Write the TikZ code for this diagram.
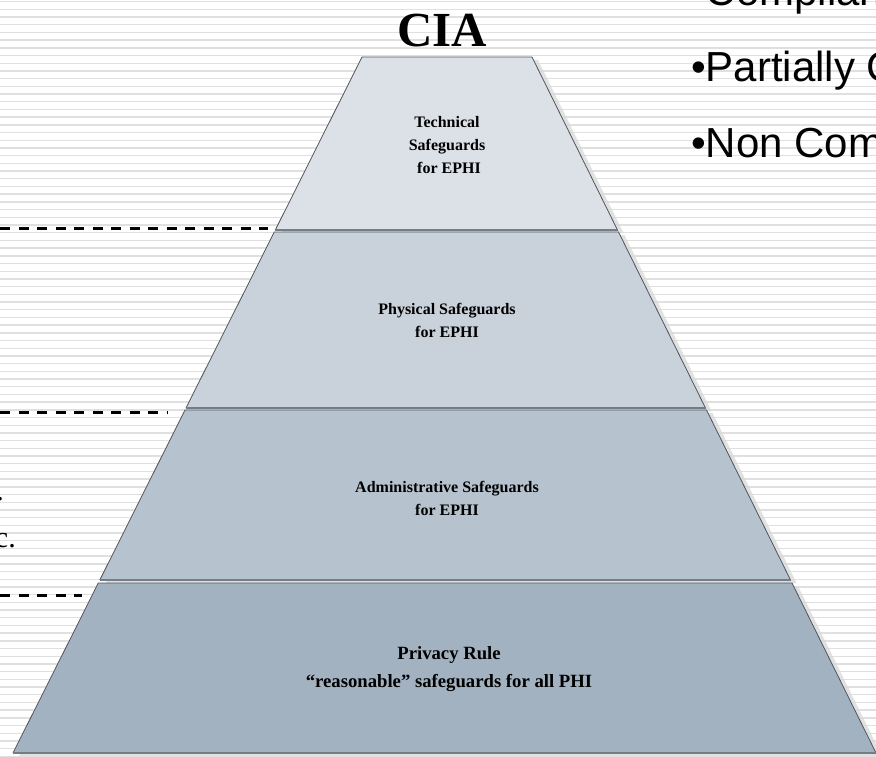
\documentclass[tikz,border=0pt]{standalone}
\usepackage{fontspec}
\setmainfont{Liberation Serif}
\newfontfamily\listfont{Liberation Sans}
\definecolor{stripegray}{HTML}{E0E0E0}
\definecolor{tierA}{HTML}{DCE1E8}
\definecolor{tierB}{HTML}{C9D1DA}
\definecolor{tierC}{HTML}{B6C2CE}
\definecolor{tierD}{HTML}{A3B2C1}
\definecolor{edgedark}{HTML}{50555C}
\definecolor{edgebase}{HTML}{767C85}
\definecolor{shadowgray}{HTML}{D8D8D8}
\begin{document}
\begin{tikzpicture}[x=1pt,y=-1pt,
  stripe/.style={draw=stripegray,line width=1.4pt},
  tierside/.style={draw=edgedark,line width=0.8pt,line join=miter},
  tierbase/.style={draw=edgebase,line width=2.4pt},
  tiershadow/.style={fill=shadowgray,opacity=0.75},
  tiertext/.style={font=\bfseries\fontsize{16}{23}\selectfont,align=center,inner sep=0pt},
  dashrule/.style={draw=black,line width=3pt,dash pattern=on 10pt off 8.5pt},
  listitem/.style={font=\listfont\fontsize{42}{50}\selectfont,anchor=base west,inner sep=0pt},
  lefttext/.style={font=\fontsize{30}{36}\selectfont,anchor=base east,inner sep=0pt}]
\useasboundingbox (0,0) rectangle (876,757);
\clip (0,0) rectangle (876,757);
\fill[white] (0,0) rectangle (876,757);
% striped backdrop
\foreach \k in {0,...,98}
  \draw[stripe] (0,{1.7+7.7*\k}) -- (876,{1.7+7.7*\k});

% pyramid corners (left edge and right edge of each tier)
\coordinate (t1tl) at (362,57);   \coordinate (t1tr) at (532,57);
\coordinate (t1bl) at (275.3,230); \coordinate (t1br) at (617.5,230);
\coordinate (t2tl) at (274.3,232); \coordinate (t2tr) at (618.5,232);
\coordinate (t2bl) at (186,408);  \coordinate (t2br) at (705.5,408);
\coordinate (t3tl) at (185,410);  \coordinate (t3tr) at (706.5,410);
\coordinate (t3bl) at (99.8,580); \coordinate (t3br) at (790.5,580);
\coordinate (t4tl) at (98.3,583); \coordinate (t4tr) at (792,583);
\coordinate (t4bl) at (13,753);   \coordinate (t4br) at (876,753);

% drop shadows
\foreach \t in {t1,t2,t3,t4}
  \fill[tiershadow] ([shift={(6,3)}]\t tl) -- ([shift={(6,3)}]\t tr)
     -- ([shift={(6,3)}]\t br) -- ([shift={(6,3)}]\t bl) -- cycle;

% tiers
\foreach \t/\c in {t1/tierA,t2/tierB,t3/tierC,t4/tierD}{
  \fill[\c] (\t tl) -- (\t tr) -- (\t br) -- (\t bl) -- cycle;
  \draw[tierside] (\t bl) -- (\t tl) -- (\t tr) -- (\t br);
  \draw[tierbase] (\t bl) -- (\t br);
}

% tier labels
\node[tiertext] (tech) at (447,145) {Technical\\Safeguards\\\ for EPHI};
\node[tiertext] (phys) at (447,320) {Physical Safeguards\\for EPHI};
\node[tiertext] (admin) at (447,498) {Administrative Safeguards\\for EPHI};
\node[tiertext,font=\bfseries\fontsize{18.7}{28}\selectfont] (priv) at (449,669)
  {Privacy Rule\\``reasonable'' safeguards for all PHI};

% title
\node[font=\bfseries\fontsize{49}{52}\selectfont,anchor=base,inner sep=0pt] (cia) at (442,47) {CIA};

% compliance list
\node[listitem] (comp) at (691,6) {•Compliant};
\node[listitem] (part) at (691,82) {•Partially Compliant};
\node[listitem] (non) at (691,158) {•Non Compliant};

% text ends along the left margin
\node[lefttext] (leftA) at (4,500) {.};
\node[lefttext] (leftB) at (16,547) {etc.};

% dashed guide lines
\coordinate (g1s) at (0,228.5); \coordinate (g1e) at (268,228.5);
\coordinate (g2s) at (0,412);   \coordinate (g2e) at (168,412);
\coordinate (g3s) at (0,595);   \coordinate (g3e) at (82,595);
\draw[dashrule] (g1s) -- (g1e);
\draw[dashrule] (g2s) -- (g2e);
\draw[dashrule] (g3s) -- (g3e);
\end{tikzpicture}
\end{document}
